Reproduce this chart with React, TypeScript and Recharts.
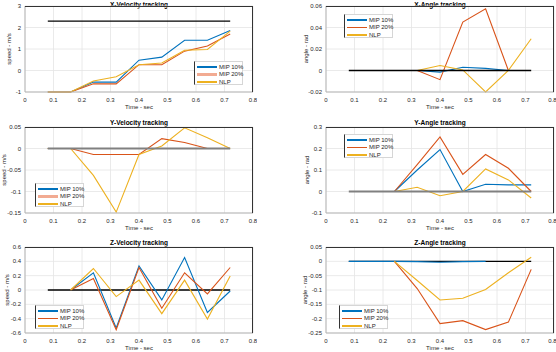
import React from 'react';
import { LineChart, Line, XAxis, YAxis, CartesianGrid } from 'recharts';

const FONT = '"Liberation Sans", Arial, Helvetica, sans-serif';
const BLUE = '#0072BD';
const RED = '#D95319';
const YELLOW = '#EDB120';

// sample times shared by every panel
const TIME = [0.08, 0.16, 0.24, 0.32, 0.4, 0.48, 0.56, 0.64, 0.72];
const X_TICKS = [0, 0.1, 0.2, 0.3, 0.4, 0.5, 0.6, 0.7, 0.8];

// X-Velocity tracking
const XV_REF = [2.3, 2.3, 2.3, 2.3, 2.3, 2.3, 2.3, 2.3, 2.3];
const XV_MIP10 = [-1, -1, -0.54, -0.54, 0.48, 0.62, 1.41, 1.41, 1.86];
const XV_MIP20 = [-1, -1, -0.62, -0.62, 0.27, 0.27, 0.9, 1.14, 1.7];
const XV_NLP = [-1, -1, -0.49, -0.29, 0.27, 0.35, 0.94, 0.98, 1.83];
const XV_TICKS = [-1, 0, 1, 2, 3];

// X-Angle tracking
const XA_REF = [0, 0, 0, 0, 0, 0, 0, 0, 0];
const XA_MIP10 = [null, null, null, 0, -0.0015, 0.003, 0.002, 0, null];
const XA_MIP20 = [null, null, null, 0, -0.0085, 0.045, 0.0575, 0, null];
const XA_NLP = [null, null, null, 0, 0.0047, 0.0005, -0.02, 0, 0.0295];
const XA_TICKS = [-0.02, 0, 0.02, 0.04, 0.06];

// Y-Velocity tracking
const YV_REF = [0, 0, 0, 0, 0, 0, 0, 0, 0];
const YV_MIP10 = [0, 0, 0, 0, 0, 0, 0, 0, null];
const YV_MIP20 = [0, 0, -0.014, -0.014, -0.014, 0.023, 0.014, 0, null];
const YV_NLP = [0, 0, -0.0625, -0.148, -0.014, 0.006, 0.048, 0.025, 0];
const YV_TICKS = [-0.15, -0.1, -0.05, 0, 0.05];

// Y-Angle tracking
const YA_REF = [0, 0, 0, 0, 0, 0, 0, 0, 0];
const YA_MIP10 = [null, null, 0, 0.1, 0.195, 0, 0.034, 0.031, 0.031];
const YA_MIP20 = [null, null, 0, 0.125, 0.254, 0.08, 0.172, 0.108, 0];
const YA_NLP = [null, null, 0, 0.02, -0.02, 0, 0.105, 0.054, -0.03];
const YA_TICKS = [-0.1, 0, 0.1, 0.2, 0.3];

// Z-Velocity tracking
const ZV_REF = [0, 0, 0, 0, 0, 0, 0, 0, 0];
const ZV_MIP10 = [null, 0, 0.24, -0.53, 0.337, -0.138, 0.452, -0.314, -0.014];
const ZV_MIP20 = [null, 0, 0.16, -0.554, 0.314, -0.254, 0.24, -0.055, 0.314];
const ZV_NLP = [null, 0, 0.3, -0.092, 0.138, -0.33, 0.138, -0.406, 0.194];
const ZV_TICKS = [-0.6, -0.4, -0.2, 0, 0.2, 0.4, 0.6];

// Z-Angle tracking
const ZA_REF = [0, 0, 0, 0, 0, 0, 0, 0, 0];
const ZA_MIP10 = [0, 0, 0, -0.001, -0.003, -0.001, 0, null, null];
const ZA_MIP20 = [null, null, 0, -0.095, -0.217, -0.207, -0.238, -0.212, -0.028];
const ZA_NLP = [null, null, 0, -0.067, -0.135, -0.129, -0.098, -0.04, 0.014];
const ZA_TICKS = [-0.25, -0.2, -0.15, -0.1, -0.05, 0, 0.05];

const PLOT_W = 228;
const PLOT_H = 86;
const PAD_L = 30;
const PAD_T = 10;
const AXIS_H = 22;
const PAGE_W = 556;

const fmt = (v: number) => String(Number(v.toFixed(3)));

function Legend({ left, top, softRed }: { left: number; top: number; softRed?: boolean }) {
  const items = [
    { name: 'MIP 10%', color: BLUE, w: 1.2 },
    { name: 'MIP 20%', color: softRed ? '#f2ab92' : RED, w: softRed ? 2.5 : 1.2 },
    { name: 'NLP', color: YELLOW, w: 1.2 },
  ];
  return (
    <div
      style={{
        position: 'absolute',
        left,
        top,
        width: 49,
        height: 24,
        background: '#fff',
        border: '1px solid #d6d6d6',
        borderLeft: '1px solid #333',
        boxSizing: 'border-box',
      }}
    >
      {items.map((it, i) => (
        <div
          key={it.name}
          style={{ position: 'absolute', left: 2, top: 1.5 + i * 7.5, height: 7, display: 'flex', alignItems: 'center' }}
        >
          <span style={{ display: 'inline-block', width: 20, height: it.w, background: it.color }} />
          <span style={{ fontSize: 6, marginLeft: 2, color: '#262626', whiteSpace: 'nowrap', lineHeight: '7px' }}>{it.name}</span>
        </div>
      ))}
    </div>
  );
}

// x tick label; the last one is pulled inside when it would run off the page
const makeXTick = (pageLeft: number) => (props: any) => {
  const { x, y, payload } = props;
  const atEdge = pageLeft + x + 4 > PAGE_W;
  return (
    <text
      x={atEdge ? x + 2.5 : x}
      y={y}
      dy={4.5}
      textAnchor={atEdge ? 'end' : 'middle'}
      fontSize={6}
      fill="#262626"
    >
      {fmt(payload.value)}
    </text>
  );
};

interface PanelProps {
  title: string;
  ylabel: string;
  ylabelX: number;
  plotLeft: number;
  plotTop: number;
  yTicks: number[];
  refLine: (number | null)[];
  mip10: (number | null)[];
  mip20: (number | null)[];
  nlp: (number | null)[];
  refColor?: string;
  refWidth?: number;
  refOnTop?: boolean;
  legend: { left: number; top: number; softRed?: boolean };
}

function Panel(p: PanelProps) {
  const data = TIME.map((t, i) => ({
    t,
    ref: p.refLine[i],
    mip10: p.mip10[i],
    mip20: p.mip20[i],
    nlp: p.nlp[i],
  }));
  const refColor = p.refColor || '#000';
  const refWidth = p.refWidth || 1.3;
  const refSeries = (
    <Line key="ref" dataKey="ref" stroke={refColor} strokeWidth={refWidth} dot={false} isAnimationActive={false} />
  );
  const tickStyle = { fontSize: 6, fill: '#262626', fontFamily: FONT };
  const chartLeft = p.plotLeft - PAD_L;

  return (
    <>
      <div
        style={{
          position: 'absolute',
          left: p.plotLeft + PLOT_W / 2,
          top: Math.max(p.plotTop - 5, 4),
          transform: 'translate(-50%, -50%)',
          fontSize: 6.5,
          fontWeight: 'bold',
          whiteSpace: 'nowrap',
          color: '#000',
          lineHeight: '7px',
        }}
      >
        {p.title}
      </div>
      <div
        style={{
          position: 'absolute',
          left: p.ylabelX,
          top: p.plotTop + PLOT_H / 2,
          transform: 'translate(-50%, -50%) rotate(-90deg)',
          fontSize: 6,
          whiteSpace: 'nowrap',
          color: '#262626',
        }}
      >
        {p.ylabel}
      </div>
      <div style={{ position: 'absolute', left: chartLeft, top: p.plotTop - PAD_T }}>
        <LineChart
          width={PAD_L + PLOT_W + 4}
          height={PAD_T + PLOT_H + AXIS_H}
          data={data}
          margin={{ top: PAD_T, right: 4, bottom: 0, left: 0 }}
        >
          <CartesianGrid stroke="#e4e4e4" strokeWidth={0.8} />
          <XAxis
            type="number"
            dataKey="t"
            domain={[0, 0.8]}
            ticks={X_TICKS}
            tick={makeXTick(chartLeft)}
            tickSize={0}
            tickMargin={5}
            axisLine={{ stroke: '#b5b5b5' }}
            height={AXIS_H}
            interval={0}
            label={{ value: 'Time - sec', position: 'insideBottom', offset: 5, fontSize: 6, fill: '#262626' }}
          />
          <YAxis
            type="number"
            domain={[p.yTicks[0], p.yTicks[p.yTicks.length - 1]]}
            ticks={p.yTicks}
            tickFormatter={fmt}
            tick={tickStyle}
            tickSize={0}
            tickMargin={4}
            axisLine={{ stroke: '#b5b5b5' }}
            width={PAD_L}
            interval={0}
          />
          {!p.refOnTop && refSeries}
          <Line dataKey="mip10" stroke={BLUE} strokeWidth={1.1} dot={false} isAnimationActive={false} />
          <Line dataKey="mip20" stroke={RED} strokeWidth={1.1} dot={false} isAnimationActive={false} />
          <Line dataKey="nlp" stroke={YELLOW} strokeWidth={1.1} dot={false} isAnimationActive={false} />
          {p.refOnTop && refSeries}
        </LineChart>
      </div>
      {/* top and right edges of the axes box */}
      <div
        style={{
          position: 'absolute',
          left: p.plotLeft,
          top: p.plotTop,
          width: PLOT_W,
          height: PLOT_H,
          borderTop: '1px solid #333',
          borderRight: '1px solid #333',
          boxSizing: 'border-box',
          pointerEvents: 'none',
        }}
      />
      <Legend {...p.legend} />
    </>
  );
}

export default function App() {
  return (
    <div
      style={{
        position: 'absolute',
        left: 0,
        top: 0,
        width: PAGE_W,
        height: 352,
        background: '#fff',
        overflow: 'hidden',
        fontFamily: FONT,
      }}
    >
      <Panel
        title="X-Velocity tracking"
        ylabel="speed - m/s"
        ylabelX={9}
        plotLeft={25}
        plotTop={6}
        yTicks={XV_TICKS}
        refLine={XV_REF}
        mip10={XV_MIP10}
        mip20={XV_MIP20}
        nlp={XV_NLP}
        legend={{ left: 194, top: 61, softRed: true }}
      />
      <Panel
        title="X-Angle tracking"
        ylabel="angle - rad"
        ylabelX={306}
        plotLeft={326}
        plotTop={6}
        yTicks={XA_TICKS}
        refLine={XA_REF}
        mip10={XA_MIP10}
        mip20={XA_MIP20}
        nlp={XA_NLP}
        refOnTop
        legend={{ left: 344, top: 14 }}
      />
      <Panel
        title="Y-Velocity tracking"
        ylabel="speed - m/s"
        ylabelX={4}
        plotLeft={25}
        plotTop={127}
        yTicks={YV_TICKS}
        refLine={YV_REF}
        mip10={YV_MIP10}
        mip20={YV_MIP20}
        nlp={YV_NLP}
        refColor="#808080"
        refWidth={2.2}
        refOnTop
        legend={{ left: 35, top: 183, softRed: true }}
      />
      <Panel
        title="Y-Angle tracking"
        ylabel="angle - rad"
        ylabelX={307}
        plotLeft={326}
        plotTop={127}
        yTicks={YA_TICKS}
        refLine={YA_REF}
        mip10={YA_MIP10}
        mip20={YA_MIP20}
        nlp={YA_NLP}
        refColor="#808080"
        refWidth={2.2}
        refOnTop
        legend={{ left: 344, top: 134 }}
      />
      <Panel
        title="Z-Velocity tracking"
        ylabel="speed - m/s"
        ylabelX={7}
        plotLeft={25}
        plotTop={247}
        yTicks={ZV_TICKS}
        refLine={ZV_REF}
        mip10={ZV_MIP10}
        mip20={ZV_MIP20}
        nlp={ZV_NLP}
        legend={{ left: 35, top: 305 }}
      />
      <Panel
        title="Z-Angle tracking"
        ylabel="angle - rad"
        ylabelX={305}
        plotLeft={326}
        plotTop={247}
        yTicks={ZA_TICKS}
        refLine={ZA_REF}
        mip10={ZA_MIP10}
        mip20={ZA_MIP20}
        nlp={ZA_NLP}
        legend={{ left: 339, top: 305 }}
      />
    </div>
  );
}
